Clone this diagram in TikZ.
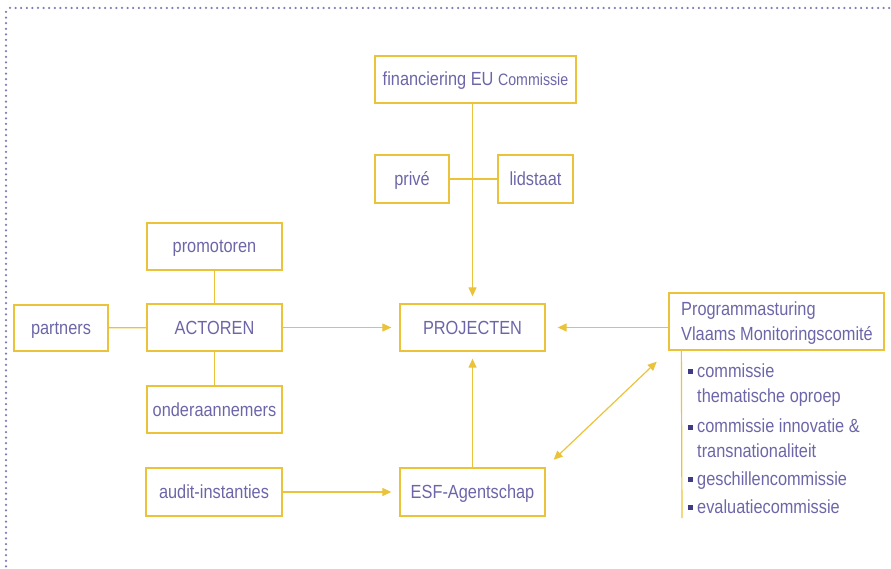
\documentclass[tikz,border=0pt]{standalone}
\usepackage{fontspec}
\setmainfont{Liberation Sans}[FakeStretch=0.86]
\usepackage{xcolor}
\usepackage{tikz}
\usetikzlibrary{calc,arrows.meta}
\definecolor{ink}{HTML}{6C66A8}
\definecolor{gold}{HTML}{EBC33A}
\definecolor{dots}{HTML}{7F7DB5}
\definecolor{square}{HTML}{3E3A84}
\tikzset{
  box/.style={draw=gold, line width=1.3pt, text=ink, inner sep=0pt,
    text height=15pt, text depth=2pt, font=\fontsize{19}{24}\selectfont},
  link/.style={draw=gold, line width=1.2pt},
  flow/.style={link, -{Triangle[length=9pt,width=8pt]}},
  border/.style={draw=dots, line width=2.5pt, line cap=round, dash pattern=on 0pt off 5.6pt},
  entry/.style={text=ink, anchor=base west, align=left, inner sep=0pt,
    font=\fontsize{19}{25}\selectfont},
  bulletsq/.style={fill=square, inner sep=0pt, minimum size=5pt},
}
\begin{document}
\begin{tikzpicture}[x=1pt,y=-1pt]
  \useasboundingbox (0,0) rectangle (891,569);
  \draw[border] (10,8) -- (891,8);
  \draw[border] (6,12) -- (6,569);
  % top: funding
  \node[box, minimum width=201pt, minimum height=47pt] (fin) at (475.5,79.5)
    {financiering EU {\fontsize{16.5}{20}\selectfont Commissie}};
  \node[box, minimum width=74pt, minimum height=48pt] (prive) at (412,179) {privé};
  \node[box, minimum width=75pt, minimum height=48pt] (lid) at (535.5,179) {lidstaat};
  % middle
  \node[box, minimum width=145pt, minimum height=47pt] (proj) at (472.5,327.5) {PROJECTEN};
  \node[box, minimum width=135pt, minimum height=47pt] (prom) at (214.5,246.5) {promotoren};
  \node[box, minimum width=135pt, minimum height=47pt] (act) at (214.5,327.5) {ACTOREN};
  \node[box, minimum width=135pt, minimum height=47pt] (onder) at (214.5,409.5) {onderaannemers};
  \node[box, minimum width=94pt, minimum height=46pt] (part) at (61,328) {partners};
  % bottom
  \node[box, minimum width=136pt, minimum height=48pt] (audit) at (214,492) {audit-instanties};
  \node[box, minimum width=145pt, minimum height=48pt] (esf) at (472.5,492) {ESF-Agentschap};
  % right
  \node[box, minimum width=215pt, minimum height=57pt] (prog) at (776.5,321.5) {};
  \node[entry] (progtxt) at (681,340) {Programmasturing\\Vlaams Monitoringscomité};
  \coordinate (listend) at (682,518);
  \node[entry] (c1) at (697,402) {commissie\\thematische oproep};
  \node[entry] (c2) at (697,457) {commissie innovatie \&\\transnationaliteit};
  \node[entry] (c3) at (697,485) {geschillencommissie};
  \node[entry] (c4) at (697,513) {evaluatiecommissie};
  \foreach \y in {377,433,485,513}
    \node[bulletsq] at (690,\y-5.5) {};

  % connectors
  \draw[flow, shorten >=7pt] (proj.north |- fin.south) -- (proj.north);
  \draw[link] (prive) -- (lid);
  \draw[link] (prom) -- (act);
  \draw[link] (act) -- (onder);
  \draw[link] (part) -- (act);
  \draw[flow, shorten >=8pt] (act) -- (proj);
  \draw[flow, shorten >=8pt] (audit) -- (esf);
  \draw[flow, shorten >=7pt] (esf) -- (proj);
  \draw[flow, shorten >=12pt] (prog.west |- proj.east) -- (proj.east);
  \draw[link, {Triangle[length=9pt,width=8pt]}-{Triangle[length=9pt,width=8pt]},
    shorten <=11pt, shorten >=16pt] (esf.north east) -- (prog.south west);
  \draw[link] ($(prog.south west)+(13,0)$) -- (listend);
\end{tikzpicture}
\end{document}
